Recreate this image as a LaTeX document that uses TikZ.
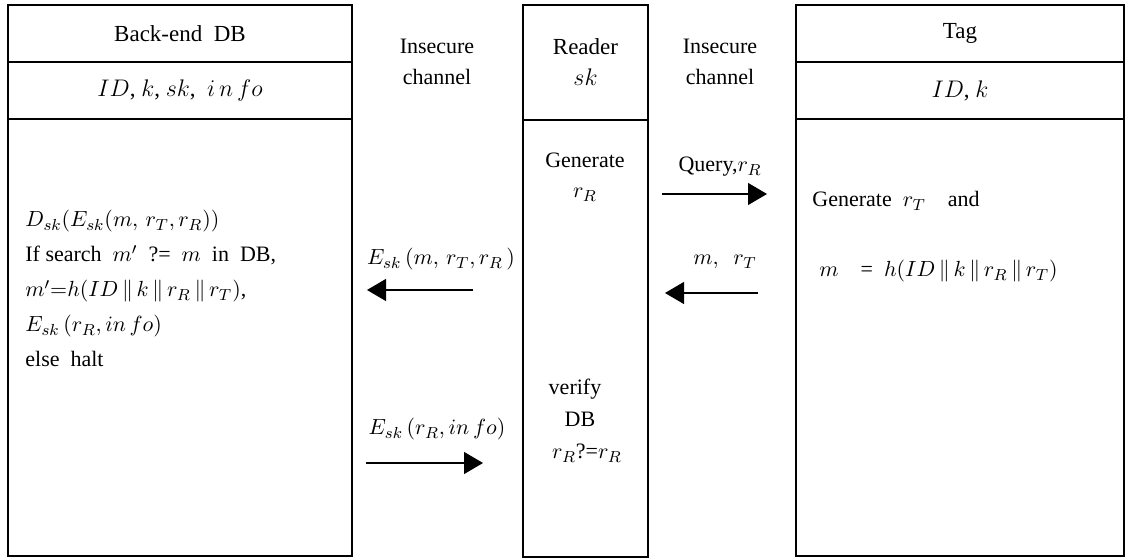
\documentclass[tikz,border=0pt]{standalone}
\usepackage{fontspec}
\setmainfont{Liberation Serif}
\usetikzlibrary{arrows.meta}
\begin{document}
\begin{tikzpicture}[x=0.5pt,y=-0.5pt,
  box/.style={draw, line width=0.7pt, inner sep=0pt, outer sep=0pt, anchor=north west, font=\fontsize{11.5}{15.5}\selectfont, align=center},
  txt/.style={inner sep=0pt, font=\fontsize{11}{15.5}\selectfont},
  msg/.style={line width=0.6pt, -{Triangle[length=9.5pt,width=11pt]}}
]
\useasboundingbox (0,0) rectangle (1130,560);
% Back-end DB
\node[box, minimum width=172pt, minimum height=28.5pt] (dbh) at (8,5) {Back-end\ \ DB};
\node[box, minimum width=172pt, minimum height=28.5pt] (dba) at (dbh.south west) {$ID$, $k$, $sk$, \ $i\,n\,fo$};
\node[box, minimum width=172pt, minimum height=218.5pt] (dbb) at (dba.south west) {};
% Reader
\node[box, minimum width=62.5pt, minimum height=57.5pt] (rdh) at (523,5) {Reader\\$sk$};
\node[box, minimum width=62.5pt, minimum height=218.5pt] (rdb) at (rdh.south west) {};
% Tag
\node[box, minimum width=164pt, minimum height=28.5pt] (tgh) at (796,5) {Tag};
\node[box, minimum width=164pt, minimum height=28.5pt] (tga) at (tgh.south west) {$ID$, $k$};
\node[box, minimum width=164pt, minimum height=218.5pt] (tgb) at (tga.south west) {};
% channels
\node[txt, align=center] (ch1) at (437,62) {Insecure\\channel};
\node[txt, align=center] (ch2) at (720,62) {Insecure\\channel};
% DB body
\node[txt, anchor=base west] (l1) at (25,227) {$D_{sk}(E_{sk}(m,\, r_T, r_R))$};
\node[txt, anchor=base west] (l2) at (25,262) {If search\ \ $m'$\ \ ?=\ \ $m$\ \ in\ \ DB,};
\node[txt, anchor=base west] (l3) at (25,297) {$m'{=}h(ID\,\|\,k\,\|\,r_R\,\|\,r_T)$,};
\node[txt, anchor=base west] (l4) at (25,332) {$E_{sk}\,(r_R, in\,fo)$};
\node[txt, anchor=base west] (l5) at (25,367) {else\ \ halt};
% Reader body
\node[txt, anchor=base] (r1) at (585,168) {Generate};
\node[txt, anchor=base] (r2) at (585,198) {$r_R$};
\node[txt, anchor=base] (r3) at (575,395) {verify};
\node[txt, anchor=base] (r4) at (580,427) {DB};
\node[txt, anchor=base] (r5) at (587,459) {$r_R$?=$r_R$};
% Tag body
\node[txt, anchor=base west] (t1) at (812,207) {Generate\ \ $r_T$\quad and};
\node[txt, anchor=base west] (t2) at (819,277) {$m$\quad =\ \ $h(ID\,\|\,k\,\|\,r_R\,\|\,r_T)$};
% messages
\node[txt, anchor=base] (q1) at (720,172) {Query,$r_R$};
\coordinate (a1s) at (662,194); \coordinate (a1e) at (767,194);
\draw[msg] (a1s) -- (a1e);
\node[txt, anchor=base] (q2) at (441,265) {$E_{sk}\,(m,\, r_T, r_R\,)$};
\coordinate (a2s) at (473,290); \coordinate (a2e) at (367,290);
\draw[msg] (a2s) -- (a2e);
\node[txt, anchor=base] (q3) at (725,265) {$m,\ \ r_T$};
\coordinate (a3s) at (758,293); \coordinate (a3e) at (665,293);
\draw[msg] (a3s) -- (a3e);
\node[txt, anchor=base] (q4) at (437,435) {$E_{sk}\,(r_R, in\,fo)$};
\coordinate (a4s) at (366,463); \coordinate (a4e) at (483,463);
\draw[msg] (a4s) -- (a4e);
\end{tikzpicture}
\end{document}
